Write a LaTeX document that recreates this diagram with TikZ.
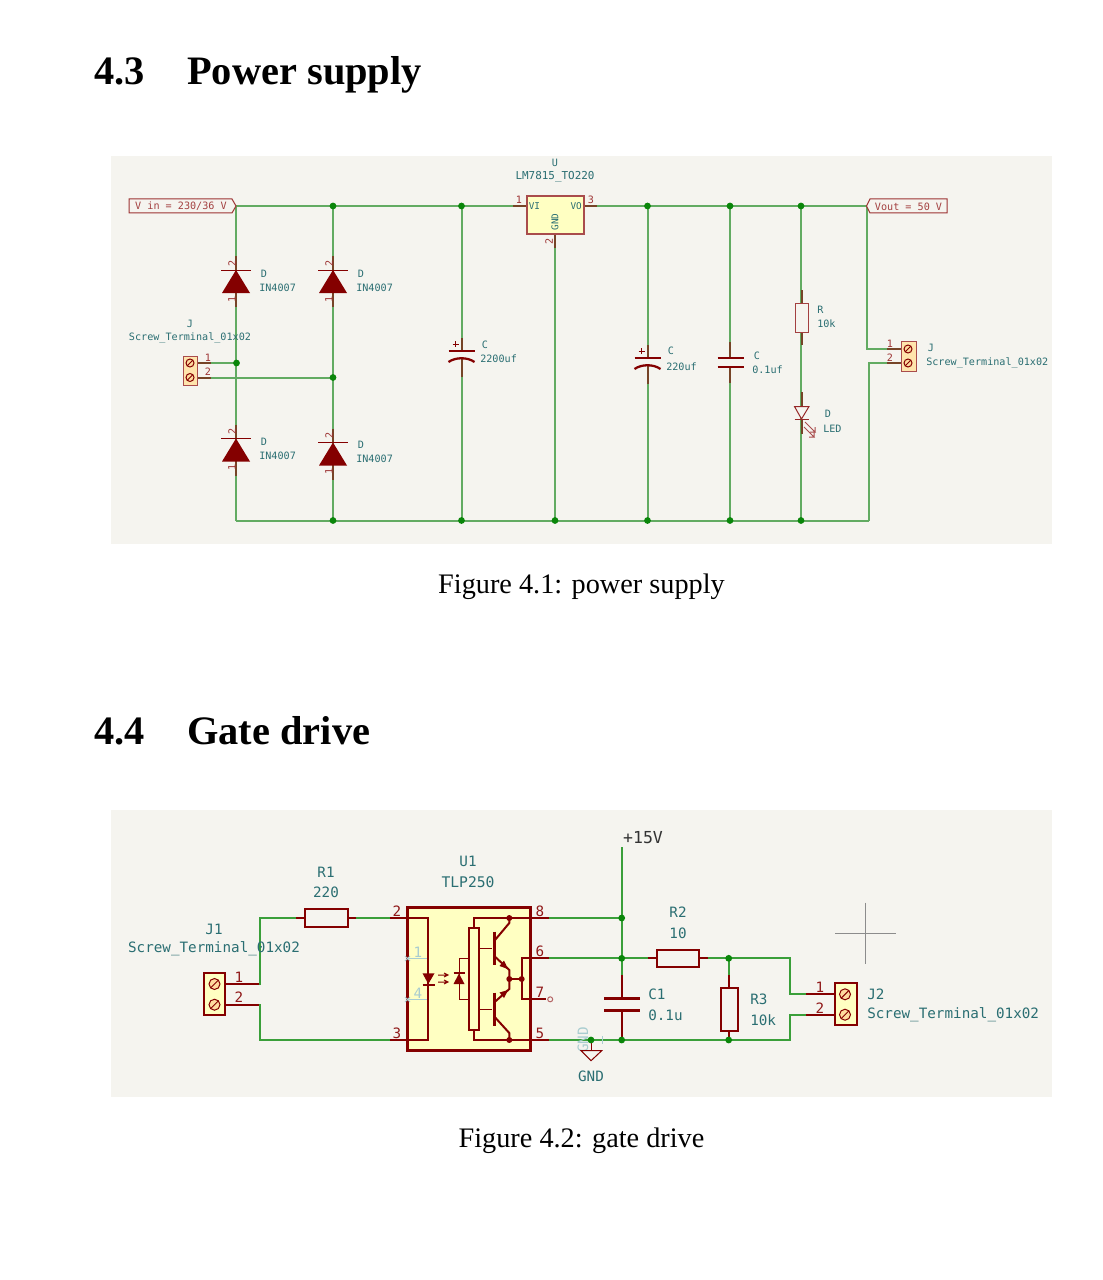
\documentclass[tikz,border=0pt]{standalone}
\usepackage{fontspec}
\setmainfont{Liberation Serif}
\newfontfamily\schfont{DejaVu Sans Mono}
\usetikzlibrary{arrows.meta}
\definecolor{pagebg}{HTML}{F5F4EF}
\definecolor{symred}{HTML}{840000}
\definecolor{symfill}{HTML}{FFFFC2}
\definecolor{wireA}{HTML}{62AB62}
\definecolor{wireB}{HTML}{3A9F3A}
\definecolor{dotgreen}{HTML}{0A860A}
\definecolor{teal}{HTML}{2A6E72}
\definecolor{ghost}{HTML}{A9CDD0}
\tikzset{
  x=0.75pt,y=-0.75pt,
  heading/.style={inner sep=0,anchor=base west,font=\fontsize{30.3}{30}\selectfont\bfseries},
  caption/.style={inner sep=0,anchor=base,font=\fontsize{21.2}{24}\selectfont},
  ts/.style={inner sep=0,text=teal,font=\schfont\fontsize{7.6}{8}\selectfont},
  tb/.style={inner sep=0,text=teal,font=\schfont\fontsize{10.7}{12}\selectfont},
  ps/.style={inner sep=0,text=symred!80,font=\schfont\fontsize{7.6}{8}\selectfont},
  pb/.style={inner sep=0,text=symred!90,font=\schfont\fontsize{10.7}{12}\selectfont},
  wa/.style={draw=wireA,line width=1.5pt},
  wb/.style={draw=wireB,line width=1.5pt},
  pina/.style={draw=symred!60!wireA,line width=1.5pt},
  pinb/.style={draw=symred,line width=1.5pt},
  body/.style={draw=symred!80,line width=0.75pt},
  bodyb/.style={draw=symred,line width=1.5pt},
  inner/.style={draw=symred,line width=1.5pt},
  yellowbox/.style={fill=symfill},
}
\newcommand\junc[1]{\fill[dotgreen] (#1) circle (3.4);}
\newcommand\idot[1]{\fill[symred] (#1) circle (3);}
\newcommand\screw[3]{% x,y,r
  \draw[symred,line width=0.75pt,fill=symfill!60!orange!70!white] (#1,#2) circle (#3);
  \draw[symred,line width=0.75pt] (#1-0.7*#3,#2+0.7*#3) -- (#1+0.7*#3,#2-0.7*#3);}
\newcommand\powerdiode[3]{% x, ybar, id
  \coordinate (#3k) at (#1,#2-14);
  \coordinate (#3a) at (#1,#2+37);
  \draw[pina] (#3k) -- (#1,#2) (#1,#2+22) -- (#3a);
  \fill[symred] (#1-14,#2+23) -- (#1+14,#2+23) -- (#1,#2) -- cycle;
  \draw[symred,line width=0.75pt] (#1-15,#2) -- (#1+15,#2);
  \node[ps,rotate=90] (#3n2) at (#1-4,#2-7) {2};
  \node[ps,rotate=90] (#3n1) at (#1-4,#2+29) {1};
}
\newcommand\polcap[5]{% x, yplate, id, y top pin, y bottom pin
  \fill[pagebg] (#1-3,#2+1) rectangle (#1+3,#2+6);
  \draw[pina] (#1,#4) -- (#1,#2) (#1,#2+7) -- (#1,#5);
  \draw[symred,line width=1.5pt] (#1-13,#2) -- (#1+13,#2);
  \draw[symred,line width=1.7pt] (#1-13,#2+11) .. controls (#1-6,#2+6) and (#1+6,#2+6) .. (#1+13,#2+11);
  \draw[symred,line width=0.75pt] (#1-9,#2-7) -- (#1-3,#2-7) (#1-6,#2-10) -- (#1-6,#2-4);
}
\begin{document}
\begin{tikzpicture}
\useasboundingbox (0,0) rectangle (1102,1280);
\fill[white] (0,0) rectangle (1102,1280);

% ---------- page text ----------
\node[heading] (h43n) at (94,85) {4.3};
\node[heading] (h43t) at (187,85) {Power supply};
\node[heading] (h44n) at (94,744) {4.4};
\node[heading] (h44t) at (187,744) {Gate drive};
\node[caption] (cap1) at (581.5,593) {Figure 4.1: power supply};
\node[caption] (cap2) at (581.5,1147) {Figure 4.2: gate drive};

% ---------- sheet backgrounds ----------
\fill[pagebg] (111,156) rectangle (1052,544);
\fill[pagebg] (111,810) rectangle (1052,1097);

% ========== POWER SUPPLY ==========
\coordinate (vin) at (236,206);
\coordinate (t2) at (333,206);
\coordinate (t3) at (461.5,206);
\coordinate (uvi) at (527,206);
\coordinate (uvo) at (584,206);
\coordinate (t4) at (647.5,206);
\coordinate (t5) at (730,206);
\coordinate (t6) at (801,206);
\coordinate (vout) at (866.5,206);
\coordinate (b1) at (236,520.5);
\coordinate (b2) at (333,520.5);
\coordinate (b3) at (461.5,520.5);
\coordinate (b4) at (555,520.5);
\coordinate (b5) at (647.5,520.5);
\coordinate (b6) at (730,520.5);
\coordinate (b7) at (801,520.5);
\coordinate (b8) at (869,520.5);
\coordinate (ugnd) at (555,234);
\coordinate (j1a) at (197,363);
\coordinate (j1b) at (197,377.5);
\coordinate (m1) at (236.5,363);
\coordinate (m2) at (333,377.5);
\coordinate (j2a) at (901,349);
\coordinate (j2b) at (901,363);

\draw[wa] (vin) -- (uvi) (uvo) -- (vout);
\draw[wa] (b1) -- (b8);
\draw[wa] (vin) -- (b1);
\draw[wa] (t2) -- (b2);
\draw[wa] (t3) -- (b3);
\draw[wa] (ugnd) -- (b4);
\draw[wa] (t4) -- (b5);
\draw[wa] (t5) -- (b6);
\draw[wa] (t6) -- (b7);
\draw[wa] (j1a) -- (m1);
\draw[wa] (j1b) -- (m2);
\draw[wa] (vout) |- (j2a);
\draw[wa] (b8) |- (j2b);

% flags
\draw[body,fill=pagebg] (129,199) -- (232,199) -- (vin) -- (232,213) -- (129,213) -- cycle;
\node[ts,text=symred!75] (vinlbl) at (181,206.5) {V in = 230/36 V};
\draw[body,fill=pagebg] (vout) -- (870,199) -- (947,199) -- (947,213) -- (870,213) -- cycle;
\node[ts,text=symred!75] (voutlbl) at (908.5,206.5) {Vout = 50 V};

% diodes
\powerdiode{236}{270}{da}
\powerdiode{333}{270}{db}
\powerdiode{236}{438.5}{dc}
\powerdiode{333}{442.5}{dd}
\node[ts,anchor=west] (dal1) at (259,274) {\,D};
\node[ts,anchor=west] (dal2) at (259,288) {IN4007};
\node[ts,anchor=west] (dbl1) at (356,274) {\,D};
\node[ts,anchor=west] (dbl2) at (356,288) {IN4007};
\node[ts,anchor=west] (dcl1) at (259,442) {\,D};
\node[ts,anchor=west] (dcl2) at (259,456) {IN4007};
\node[ts,anchor=west] (ddl1) at (356,445) {\,D};
\node[ts,anchor=west] (ddl2) at (356,459) {IN4007};

% input terminal
\draw[pina] (j1a) -- (211,363) (j1b) -- (211,377.5);
\draw[symred!70,line width=0.75pt,fill=symfill!70!orange!70!white] (183,356) rectangle (197,385);
\screw{190}{363}{4}
\screw{190}{377.5}{4}
\node[ps] (j1p1) at (208,358) {1};
\node[ps] (j1p2) at (208,372) {2};
\node[ts] (j1r) at (190,324) {J};
\node[ts] (j1v) at (190,338) {Screw\_Terminal\_01x02};

% input capacitor
\polcap{461.5}{351}{c1}{338}{377}
\node[ts,anchor=west] (c1r) at (480,345) {\,C};
\node[ts,anchor=west] (c1v) at (480,359) {2200uf};

% regulator
\draw[pina] (uvi) -- (513,206) (uvo) -- (597,206) (ugnd) -- (555,248);
\draw[symred!70,line width=1.5pt,fill=symfill] (527,196) rectangle (584,234);
\node[ts,anchor=west,font=\schfont\fontsize{7}{8}\selectfont] (uvil) at (528.5,206) {VI};
\node[ts,anchor=east,font=\schfont\fontsize{7}{8}\selectfont] (uvol) at (582,206) {VO};
\node[ts,rotate=90,font=\schfont\fontsize{7}{8}\selectfont] (ugl) at (555,222) {GND};
\node[ps] (up1) at (519,200) {1};
\node[ps] (up3) at (591,200) {3};
\node[ps,rotate=90] (up2) at (549,241) {2};
\node[ts] (ur) at (555,163) {U};
\node[ts,font=\schfont\fontsize{8.2}{8}\selectfont] (uv) at (555,177) {LM7815\_TO220};

% output capacitors
\polcap{647.5}{358}{c2}{345}{384}
\node[ts,anchor=west] (c2r) at (666,351) {\,C};
\node[ts,anchor=west] (c2v) at (666,367) {220uf};
\fill[pagebg] (727,359) rectangle (733,366);
\draw[pina] (730,342) -- (730,358) (730,367) -- (730,383);
\draw[symred,line width=1.5pt] (717.5,358) -- (743.5,358) (717.5,366.5) -- (743.5,366.5);
\node[ts,anchor=west] (c3r) at (752,356) {\,C};
\node[ts,anchor=west] (c3v) at (752,370) {0.1uf};

% R and LED
\draw[pina] (801.5,290) -- (801.5,303) (801.5,332) -- (801.5,345);
\draw[symred!75,line width=0.75pt,fill=pagebg] (795.5,303) rectangle (808,332);
\node[ts,anchor=west] (rr) at (817,310) {R};
\node[ts,anchor=west] (rv) at (817,324) {10k};
\draw[pina] (801.5,392) -- (801.5,406) (801.5,420) -- (801.5,434);
\draw[symred!85,line width=0.75pt,fill=pagebg] (794.5,406.5) -- (809,406.5) -- (801.5,419) -- cycle;
\draw[symred!85,line width=0.75pt] (794.5,419.5) -- (809,419.5);
\draw[symred!70,line width=0.75pt] (805,422) -- (815,432) -- (810,432) (815,432) -- (815,427);
\draw[symred!70,line width=0.75pt] (804,427) -- (814,437) -- (809,437) (814,437) -- (814,432);
\node[ts,anchor=west] (lr) at (823,414) {\,D};
\node[ts,anchor=west] (lv) at (823,429) {LED};

% output terminal
\draw[pina] (j2a) -- (887,349) (j2b) -- (887,363);
\draw[symred!70,line width=0.75pt,fill=symfill!70!orange!70!white] (901,341) rectangle (916,371);
\screw{908}{349}{4}
\screw{908}{363}{4}
\node[ps] (j2p1) at (890,344) {1};
\node[ps] (j2p2) at (890,358) {2};
\node[ts,anchor=west] (j2r) at (926,348) {\,J};
\node[ts,anchor=west] (j2v) at (926,363) {Screw\_Terminal\_01x02};

\foreach \p in {t2,t3,t4,t5,t6,b2,b3,b4,b5,b6,b7,m1,m2} {\junc{\p}}

% ========== GATE DRIVE ==========
\coordinate (ja) at (225,984);
\coordinate (jb) at (225,1004.7);
\coordinate (jx) at (259.5,984);
\coordinate (r1l) at (305,917.7);
\coordinate (r1r) at (348,917.7);
\coordinate (u2) at (408,917.7);
\coordinate (u3) at (408,1040);
\coordinate (u8) at (530,918);
\coordinate (u6) at (530,958.3);
\coordinate (u5) at (530,1040);
\coordinate (v15) at (621.7,847);
\coordinate (n8) at (621.7,918);
\coordinate (n6) at (621.7,958.3);
\coordinate (ng) at (591,1040);
\coordinate (nc) at (621.7,1040);
\coordinate (r2l) at (657.3,958.3);
\coordinate (r2r) at (699.3,958.3);
\coordinate (n3) at (728.7,958.3);
\coordinate (n3b) at (728.7,1040);
\coordinate (ncr) at (789.7,958.3);
\coordinate (nbr) at (789.7,1040);
\coordinate (k1) at (835,994.3);
\coordinate (k2) at (835,1014.7);

\draw[wb] (ja) -| (jx |- r1l) -- (r1l);
\draw[wb] (r1r) -- (u2);
\draw[wb] (jb) -| (jx |- u3) -- (u3);
\draw[wb] (u8) -- (n8);
\draw[wb] (u6) -- (r2l);
\draw[wb] (r2r) -- (ncr) |- (k1);
\draw[wb] (u5) -- (nbr) |- (k2);
\draw[wb] (v15) -- (n6);
\draw[wb] (n3) -- (n3b);
\draw[wb] (n6) -- (621.7,975);

% pins outside
\draw[pinb] (225,984) -- (259,984) (225,1004.7) -- (259,1004.7);
\draw[pinb] (296,917.7) -- (r1l) (r1r) -- (356,917.7);
\draw[pinb] (390,917.7) -- (u2) (390,1040) -- (u3);
\draw[pinb] (u8) -- (549,918) (u6) -- (549,958.3) (u5) -- (549,1040);
\draw[pinb] (648,958.3) -- (r2l) (r2r) -- (708,958.3);
\draw[pinb] (806,994.3) -- (k1) (806,1014.7) -- (k2);
\draw[pinb] (728.7,975) -- (728.7,988) (728.7,1031) -- (728.7,1040);
\draw[pinb] (621.7,975) -- (621.7,998.7) (621.7,1010.7) -- (621.7,1037);

% J1
\draw[bodyb,fill=symfill] (204,972.7) rectangle (225.3,1015);
\screw{214.5}{984}{5.5}
\screw{214.5}{1004.7}{5.5}
\node[pb] (p1a) at (239,977) {1};
\node[pb] (p1b) at (239,997) {2};
\node[tb] (j1rr) at (214,929) {J1};
\node[tb] (j1vv) at (214,949) {Screw\_Terminal\_01x02};

% R1
\draw[bodyb,fill=pagebg] (305,909) rectangle (348.3,926.7);
\node[tb] (r1rr) at (326,872) {R1};
\node[tb] (r1vv) at (326,892) {220};

% U1
\draw[bodyb,line width=2.25pt,fill=symfill] (407.7,907) rectangle (530.3,1050);
\node[tb] (u1r) at (468,861) {U1};
\node[tb,font=\schfont\fontsize{11}{12}\selectfont] (u1v) at (468,882) {TLP250};
\node[pb] (p2) at (397,911) {2};
\node[pb] (p3) at (397,1033) {3};
\node[pb] (p8) at (540,911) {8};
\node[pb] (p6) at (540,951) {6};
\node[pb] (p7) at (540,992) {7};
\node[pb] (p5) at (540,1033) {5};
% unconnected pins 1 and 4
\draw[ghost,line width=0.75pt] (407.5,958.3) -- (427,958.3) (407.5,999.3) -- (427,999.3);
\draw[ghost,line width=0.75pt] (405,956) -- (410,961) (405,961) -- (410,956);
\draw[ghost,line width=0.75pt] (405,997) -- (410,1002) (405,1002) -- (410,997);
\node[tb,text=ghost] (gp1) at (418,952) {1};
\node[tb,text=ghost] (gp4) at (418,993) {4};
% input LED
\draw[inner] (u2) -- (428.3,917.7) -- (428.3,1040) -- (u3);
\fill[symred] (422.5,973.3) -- (434.5,973.3) -- (428.3,984) -- cycle;
\draw[symred,line width=1.5pt] (422.5,984.5) -- (434.5,984.5);
\draw[symred,line width=0.75pt] (438,975) -- (447,975) (444,973) -- (448,975) -- (444,977);
\draw[symred,line width=0.75pt] (438,982) -- (447,982) (444,980) -- (448,982) -- (444,984);
% photodiode
\draw[inner,line width=0.75pt] (469,958.3) -- (459,958.3) -- (459,999.3) -- (469,999.3);
\fill[symred] (453.5,984) -- (464.5,984) -- (459,973.5) -- cycle;
\draw[symred,line width=1.5pt] (453.5,973.3) -- (464.5,973.3);
% driver block
\draw[inner] (474,927.7) -- (474,918) -- (u8);
\draw[inner] (474,1030) -- (474,1040) -- (u5);
\draw[inner,fill=symfill] (469,927.7) rectangle (479,1030);
% upper transistor
\draw[inner,line width=0.75pt] (479,948.3) -- (491.7,948.3);
\draw[symred,line width=2.25pt] (494,931.7) -- (494,965);
\draw[inner] (495,940) -- (509.3,923) -- (509.3,918);
\draw[inner] (495,956.7) -- (509.3,970) -- (509.3,979);
\fill[symred] (508,969) -- (499.5,966) -- (504,960.5) -- cycle;
% lower transistor
\draw[inner,line width=0.75pt] (479,1009) -- (491.7,1009);
\draw[symred,line width=2.25pt] (494,992.7) -- (494,1026);
\draw[inner] (495,1001.7) -- (509.3,989) -- (509.3,979);
\fill[symred] (508,990) -- (499.5,992.5) -- (504,998) -- cycle;
\draw[inner] (495,1017.3) -- (509.3,1033) -- (509.3,1040);
% output node
\draw[inner] (509.3,979) -- (521.7,979);
\draw[inner] (u6) -- (521.7,958.3) -- (521.7,999.3) -- (546,999.3);
\draw[symred!60,line width=0.75pt,fill=pagebg] (550.2,999.3) circle (2.5);
\idot{509.3,918}
\idot{509.3,1040}
\idot{509.3,979}
\idot{521.7,979}

% C1
\draw[symred,line width=2.25pt] (604,998.7) -- (640,998.7) (604,1010.7) -- (640,1010.7);
\node[tb,anchor=west] (c1rr) at (648,994) {C1};
\node[tb,anchor=west] (c1vv) at (648,1015) {0.1u};

% R2, R3
\draw[bodyb,fill=pagebg] (657.3,950) rectangle (699.3,966.7);
\node[tb] (r2rr) at (678,912) {R2};
\node[tb] (r2vv) at (678,933) {10};
\draw[bodyb,fill=pagebg] (721,988.3) rectangle (737.7,1030.7);
\node[tb,anchor=west] (r3rr) at (750,999) {R3};
\node[tb,anchor=west] (r3vv) at (750,1020) {10k};

% J2
\draw[bodyb,fill=symfill] (835,983.3) rectangle (856.7,1025);
\screw{845}{994.3}{5.5}
\screw{845}{1014.7}{5.5}
\node[pb] (p2a) at (820,987.7) {1};
\node[pb] (p2b) at (820,1007.7) {2};
\node[tb,anchor=west] (j2rr) at (867,994) {J2};
\node[tb,anchor=west] (j2vv) at (867,1015) {Screw\_Terminal\_01x02};

% GND
\coordinate (gndt) at (591,1050.7);
\draw[ghost,line width=0.75pt] (602,1036) -- (602,1044);
\node[tb,text=ghost,rotate=90] (gghost) at (583,1040) {GND};
\draw[pinb,line width=0.75pt] (ng) -- (gndt);
\draw[symred,line width=0.75pt] (581,1050.7) -- (601.7,1050.7) -- (591,1060.7) -- cycle;
\node[tb] (gndl) at (591,1076) {GND};
\node[tb,text=black!80,font=\schfont\fontsize{12.4}{12}\selectfont] (v15l) at (643,838) {+15V};

% crosshair
\coordinate (chl) at (835,933.7);
\coordinate (chr) at (896,933.7);
\coordinate (cht) at (865.7,902.7);
\coordinate (chb) at (865.7,964);
\draw[black!45,line width=0.75pt] (chl) -- (chr) (cht) -- (chb);

\foreach \p in {n8,n6,ng,nc,n3,n3b} {\junc{\p}}
\end{tikzpicture}
\end{document}
